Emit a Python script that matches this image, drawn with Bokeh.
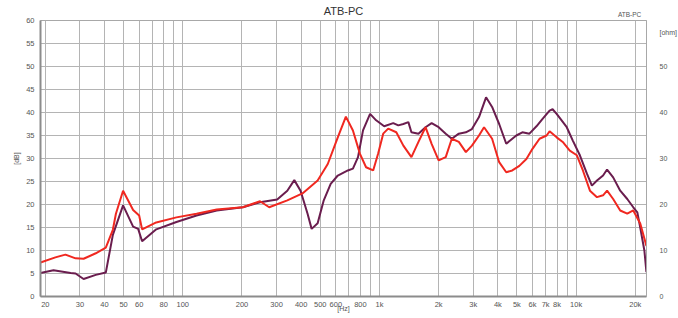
from bokeh.plotting import figure
from bokeh.models import Range1d, FixedTicker, LinearAxis, LogAxis
from bokeh.embed import file_html
from bokeh.resources import INLINE

# Frequency response, red trace
red_freq = [18.9, 22.5, 25.3, 28.5, 31.3, 36.1, 40.6, 44.1, 45.7, 49.7, 55.9, 60.0, 62.1,
            73.3, 92.8, 117.5, 148.8, 202, 247, 275, 340, 406, 485, 546, 614, 675, 733,
            796, 855, 929, 985, 1045, 1108, 1218, 1323, 1454, 1579, 1715, 1842, 2000,
            2173, 2333, 2533, 2751, 2953, 3208, 3403, 3740, 4062, 4413, 4737, 5145, 5588,
            6000, 6518, 7080, 7330, 7962, 8550, 9286, 10087, 10828, 11757, 12770, 13710,
            14370, 15430, 16760, 18200, 19530, 21210, 22780]
red_db = [7.4, 8.5, 9.1, 8.3, 8.2, 9.4, 10.6, 14.5, 18.0, 23.0, 18.8, 17.6, 14.6,
          16.1, 17.2, 18.0, 18.9, 19.4, 20.7, 19.4, 20.9, 22.4, 25.2, 28.8, 34.6, 39.1, 36.1,
          31.0, 28.1, 27.4, 31.1, 35.4, 36.5, 35.7, 32.8, 30.3, 33.6, 36.8, 33.2, 29.6,
          30.3, 34.3, 33.6, 31.4, 32.8, 35.0, 36.8, 34.3, 29.2, 27.0, 27.4, 28.4, 29.9,
          32.1, 34.3, 35.0, 35.9, 34.6, 33.6, 31.7, 30.7, 27.4, 23.0, 21.6, 22.0,
          23.0, 21.2, 18.7, 18.0, 18.7, 15.8, 11.0]

# Frequency response, purple trace
pur_freq = [18.9, 22.0, 26.9, 28.5, 31.3, 36.1, 40.6, 44.1, 49.7, 55.9, 59.3, 62.1,
            73.3, 92.8, 117.5, 148.8, 202, 247, 302, 340, 369, 397, 431, 452, 485, 521,
            565, 614, 691, 733, 778, 825, 896, 962, 1057, 1175, 1247, 1323, 1403, 1454,
            1579, 1715, 1842, 2000, 2173, 2333, 2533, 2751, 2953, 3208, 3484, 3740, 4062,
            4413, 4737, 4965, 5331, 5788, 6287, 6752, 7330, 7594, 7962, 8963, 9622, 10450,
            11350, 12030, 12770, 13710, 14370, 15430, 16760, 18200, 19530, 20480, 21220,
            22240, 22780]
pur_db = [5.1, 5.7, 5.1, 5.0, 3.8, 4.7, 5.2, 13.4, 19.8, 15.2, 14.7, 12.0,
          14.6, 16.2, 17.6, 18.7, 19.4, 20.5, 21.1, 23.0, 25.3, 23.0, 18.0, 14.7, 15.9, 20.9,
          24.5, 26.3, 27.4, 27.8, 30.3, 36.1, 39.7, 38.3, 37.0, 37.7, 37.2, 37.5, 37.9, 35.7,
          35.4, 36.8, 37.7, 36.8, 35.4, 34.3, 35.4, 35.7, 36.4, 39.0, 43.3, 41.2, 37.5,
          33.2, 34.3, 35.0, 35.7, 35.4, 37.0, 38.6, 40.4, 40.7, 39.7, 36.8, 33.9, 30.7,
          26.7, 24.1, 25.2, 26.3, 27.6, 25.9, 23.0, 21.2, 19.4, 18.3, 14.8,
          10.0, 5.3]

x_ticks = [20, 30, 40, 50, 60, 70, 80, 90, 100, 200, 300, 400, 500, 600, 700, 800, 900,
           1000, 2000, 3000, 4000, 5000, 6000, 7000, 8000, 9000, 10000, 20000]
x_labels = ["20", "30", "40", "50", "60", "", "80", "", "100", "200", "300", "400", "500",
            "600", "", "800", "", "1k", "2k", "3k", "4k", "5k", "6k", "7k", "8k", "", "10k", "20k"]
y_ticks = [0, 5, 10, 15, 20, 25, 30, 35, 40, 45, 50, 55, 60]
r_ticks = [0, 10, 20, 30, 40, 50, 57.5]
r_labels = ["0", "10", "20", "30", "40", "50", "[ohm]"]
title_text = "ATB-PC"
corner_tick = [18700]
corner_text = ["ATB-PC"]

FONT = "Liberation Sans"
GRID = "#b4b4b4"
LBL = "#555555"

p = figure(x_axis_type="log", x_range=Range1d(18.9, 22800), y_range=Range1d(0, 60),
           frame_width=606, frame_height=276,
           min_border_left=40, min_border_right=32, min_border_top=20, min_border_bottom=22,
           output_backend="svg", toolbar_location=None,
           background_fill_color="white", border_fill_color="white")

p.outline_line_color = "#a8a8a8"
p.outline_line_width = 1

p.xaxis.ticker = FixedTicker(ticks=x_ticks)
p.xaxis.major_label_overrides = {t: l for t, l in zip(x_ticks, x_labels)}
p.yaxis.ticker = FixedTicker(ticks=y_ticks)
p.xaxis.minor_tick_line_color = None
p.yaxis.minor_tick_line_color = None

for ax in (p.xaxis[0], p.yaxis[0]):
    ax.major_tick_in = 0
    ax.major_tick_out = 0
    ax.axis_line_color = "#8c8c8c"
    ax.axis_line_width = 2
    ax.major_label_text_font = FONT
    ax.major_label_text_font_size = "7.5px"
    ax.major_label_text_color = LBL
    ax.axis_label_text_font = FONT
    ax.axis_label_text_font_size = "7px"
    ax.axis_label_text_color = LBL
    ax.axis_label_text_font_style = "normal"

p.xaxis.major_label_standoff = 3
p.xaxis.axis_label = "[Hz]"
p.xaxis.axis_label_standoff = -7
p.yaxis.major_label_standoff = 6
p.yaxis.axis_label = "[dB]"
p.yaxis.axis_label_standoff = 3

# right axis (ohm scale)
rax = LinearAxis(ticker=FixedTicker(ticks=r_ticks))
rax.major_label_overrides = {t: l for t, l in zip(r_ticks, r_labels)}
rax.major_tick_in = 0
rax.major_tick_out = 0
rax.minor_tick_line_color = None
rax.axis_line_color = "#a8a8a8"
rax.major_label_standoff = 13
rax.major_label_text_font = FONT
rax.major_label_text_font_size = "7px"
rax.major_label_text_color = LBL
p.add_layout(rax, "right")

# top axis carrying the title (axis label) and the small corner caption (tick label)
tax = LogAxis(ticker=FixedTicker(ticks=corner_tick))
tax.major_label_overrides = {t: l for t, l in zip(corner_tick, corner_text)}
tax.axis_line_color = None
tax.major_tick_line_color = None
tax.minor_tick_line_color = None
tax.major_tick_in = 0
tax.major_tick_out = 0
tax.major_label_standoff = 3
tax.major_label_text_font = FONT
tax.major_label_text_font_size = "6.5px"
tax.major_label_text_color = LBL
tax.axis_label = title_text
tax.axis_label_standoff = -9
tax.axis_label_text_font = FONT
tax.axis_label_text_font_size = "11px"
tax.axis_label_text_font_style = "normal"
tax.axis_label_text_color = "#333333"
p.add_layout(tax, "above")

p.xgrid.grid_line_color = GRID
p.ygrid.grid_line_color = GRID
p.xgrid.grid_line_width = 1
p.ygrid.grid_line_width = 1

p.line(pur_freq, pur_db, line_color="#6a1d4e", line_width=2)
p.line(red_freq, red_db, line_color="#f02820", line_width=2)

open("out.html", "w").write(file_html(p, INLINE))
